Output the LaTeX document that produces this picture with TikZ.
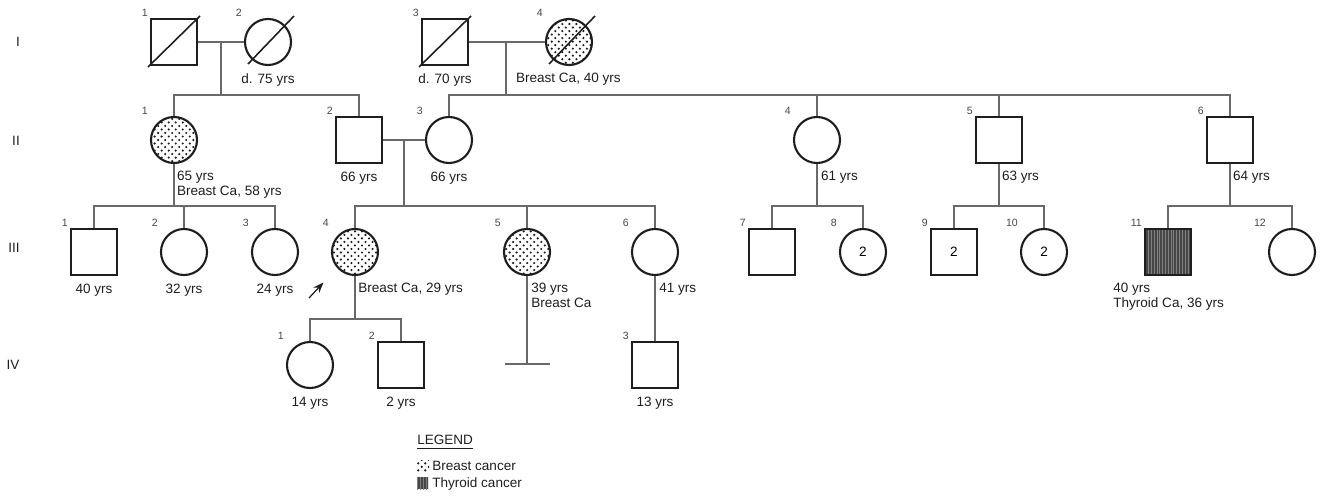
\documentclass[tikz,border=0pt]{standalone}
\usepackage{fontspec}
\setmainfont{Liberation Sans}
\usepackage{xcolor}
\definecolor{pedink}{RGB}{30,30,30}
\definecolor{pedgray}{RGB}{105,105,105}
\definecolor{pednum}{RGB}{70,70,70}
\usepackage{tikz}
\usetikzlibrary{arrows.meta, positioning, patterns, calc}

\pgfdeclarepatternformonly{bcdots}{\pgfqpoint{-1pt}{-1pt}}{\pgfqpoint{3pt}{3pt}}{\pgfqpoint{4pt}{4pt}}{%
  \pgfpathcircle{\pgfqpoint{0pt}{0pt}}{0.68pt}%
  \pgfpathcircle{\pgfqpoint{2pt}{2pt}}{0.68pt}%
  \pgfusepath{fill}}
\pgfdeclarepatternformonly{tcstripes}{\pgfqpoint{0pt}{-1pt}}{\pgfqpoint{1.6pt}{1pt}}{\pgfqpoint{1.6pt}{1pt}}{%
  \pgfsetlinewidth{0.45pt}%
  \pgfpathmoveto{\pgfqpoint{0.8pt}{-1pt}}%
  \pgfpathlineto{\pgfqpoint{0.8pt}{1pt}}%
  \pgfusepath{stroke}}

\newcommand{\agefont}{\fontsize{7.7}{8.6}\selectfont}
\newcommand{\numfont}{\fontsize{6}{7}\selectfont}

\tikzset{
  male/.style={rectangle, draw=pedink, line width=1.2pt, minimum size=0.92cm, inner sep=0pt, font=\agefont},
  female/.style={circle, draw=pedink, line width=1.2pt, minimum size=0.92cm, inner sep=0pt, font=\agefont},
  breastca/.style={pattern=bcdots, pattern color=pedink},
  thyroidca/.style={preaction={fill=black!72}, pattern=tcstripes, pattern color=black!50},
  pedline/.style={draw=pedgray, line width=0.6pt},
  deceased/.style={draw=pedink, line width=0.9pt},
  age/.style={font=\agefont, inner sep=1pt, text=pedink},
  num/.style={font=\numfont, inner sep=0.5pt, anchor=south east, text=pednum},
  genlab/.style={font=\agefont, text=pedink},
}

\begin{document}
\begin{tikzpicture}
  \useasboundingbox (0,0) rectangle (26.44,9.90);

  % Generation labels
  \node[genlab] (gI)   at (0.36,9.06) {I};
  \node[genlab] (gII)  at (0.32,7.08) {II};
  \node[genlab] (gIII) at (0.28,4.94) {III};
  \node[genlab] (gIV)  at (0.26,2.60) {IV};

  % --- Generation I ---
  \node[male] (I1) at (3.48,9.06) {};
  \node[female] (I2) at (5.36,9.06) {};
  \node[male] (I3) at (8.90,9.06) {};
  \node[female, breastca] (I4) at (11.38,9.06) {};
  \node[num] (nI1) at ([xshift=-0.5cm]I1.north) {1};
  \node[num] (nI2) at ([xshift=-0.5cm]I2.north) {2};
  \node[num] (nI3) at ([xshift=-0.5cm]I3.north) {3};
  \node[num] (nI4) at ([xshift=-0.5cm]I4.north) {4};
  % deceased
  \draw[deceased] ([shift={(-0.52,-0.50)}]I1.center) -- ([shift={(0.52,0.52)}]I1.center);
  \draw[deceased] ([shift={(-0.40,-0.44)}]I2.center) -- ([shift={(0.52,0.52)}]I2.center);
  \draw[deceased] ([shift={(-0.52,-0.50)}]I3.center) -- ([shift={(0.52,0.52)}]I3.center);
  \draw[deceased] ([shift={(-0.40,-0.44)}]I4.center) -- ([shift={(0.52,0.52)}]I4.center);
  \node[age, below=0.12cm of I2] (aI2) {d. 75 yrs};
  \node[age, below=0.12cm of I3] (aI3) {d. 70 yrs};
  \node[age, anchor=north west] (aI4) at (10.28,8.48) {Breast Ca, 40 yrs};

  % --- Generation II ---
  \node[female, breastca] (II1) at (3.48,7.10) {};
  \node[male] (II2) at (7.18,7.10) {};
  \node[female] (II3) at (8.98,7.10) {};
  \node[female] (II4) at (16.34,7.10) {};
  \node[male] (II5) at (19.98,7.10) {};
  \node[male] (II6) at (24.60,7.10) {};
  \node[num] (nII1) at ([xshift=-0.5cm]II1.north) {1};
  \node[num] (nII2) at ([xshift=-0.5cm]II2.north) {2};
  \node[num] (nII3) at ([xshift=-0.5cm]II3.north) {3};
  \node[num] (nII4) at ([xshift=-0.5cm]II4.north) {4};
  \node[num] (nII5) at ([xshift=-0.5cm]II5.north) {5};
  \node[num] (nII6) at ([xshift=-0.5cm]II6.north) {6};
  \node[age, anchor=north west, align=left] (aII1) at (3.50,6.52) {65 yrs\\Breast Ca, 58 yrs};
  \node[age, below=0.12cm of II2] (aII2) {66 yrs};
  \node[age, below=0.12cm of II3] (aII3) {66 yrs};
  \node[age, anchor=north west] (aII4) at (16.38,6.52) {61 yrs};
  \node[age, anchor=north west] (aII5) at (20.00,6.52) {63 yrs};
  \node[age, anchor=north west] (aII6) at (24.62,6.52) {64 yrs};

  % --- Generation III ---
  \node[male] (III1) at (1.88,4.86) {};
  \node[female] (III2) at (3.68,4.86) {};
  \node[female] (III3) at (5.50,4.86) {};
  \node[female, breastca] (III4) at (7.10,4.86) {};
  \node[female, breastca] (III5) at (10.54,4.86) {};
  \node[female] (III6) at (13.10,4.86) {};
  \node[male] (III7) at (15.44,4.86) {};
  \node[female] (III8) at (17.26,4.86) {2};
  \node[male] (III9) at (19.08,4.86) {2};
  \node[female] (III10) at (20.88,4.86) {2};
  \node[male, thyroidca] (III11) at (23.36,4.86) {};
  \node[female] (III12) at (25.84,4.86) {};
  \node[num] (nIII1) at ([xshift=-0.5cm]III1.north) {1};
  \node[num] (nIII2) at ([xshift=-0.5cm]III2.north) {2};
  \node[num] (nIII3) at ([xshift=-0.5cm]III3.north) {3};
  \node[num] (nIII4) at ([xshift=-0.5cm]III4.north) {4};
  \node[num] (nIII5) at ([xshift=-0.5cm]III5.north) {5};
  \node[num] (nIII6) at ([xshift=-0.5cm]III6.north) {6};
  \node[num] (nIII7) at ([xshift=-0.5cm]III7.north) {7};
  \node[num] (nIII8) at ([xshift=-0.5cm]III8.north) {8};
  \node[num] (nIII9) at ([xshift=-0.5cm]III9.north) {9};
  \node[num] (nIII10) at ([xshift=-0.5cm]III10.north) {10};
  \node[num] (nIII11) at ([xshift=-0.5cm]III11.north) {11};
  \node[num] (nIII12) at ([xshift=-0.5cm]III12.north) {12};
  \node[age, below=0.12cm of III1] (aIII1) {40 yrs};
  \node[age, below=0.12cm of III2] (aIII2) {32 yrs};
  \node[age, below=0.12cm of III3] (aIII3) {24 yrs};
  \node[age, anchor=north west] (aIII4) at (7.125,4.28) {Breast Ca, 29 yrs};
  \node[age, anchor=north west, align=left] (aIII5) at (10.585,4.28) {39 yrs\\Breast Ca};
  \node[age, anchor=north west] (aIII6) at (13.145,4.28) {41 yrs};
  \node[age, anchor=north west, align=left] (aIII11) at (22.225,4.28) {40 yrs\\Thyroid Ca, 36 yrs};
  % proband
  \coordinate (prb) at (6.18,3.94);
  \coordinate (prbtip) at (6.47,4.25);
  \draw[-{Stealth[length=6pt,width=4.5pt]}, pedink, line width=0.7pt] (prb) -- (prbtip);

  % --- Generation IV ---
  \node[female] (IV1) at (6.20,2.60) {};
  \node[male] (IV2) at (8.02,2.60) {};
  \node[male] (IV3) at (13.10,2.60) {};
  \node[num] (nIV1) at ([xshift=-0.5cm]IV1.north) {1};
  \node[num] (nIV2) at ([xshift=-0.5cm]IV2.north) {2};
  \node[num] (nIV3) at ([xshift=-0.5cm]IV3.north) {3};
  \node[age, below=0.12cm of IV1] (aIV1) {14 yrs};
  \node[age, below=0.12cm of IV2] (aIV2) {2 yrs};
  \node[age, below=0.12cm of IV3] (aIV3) {13 yrs};

  % --- Lines of descent ---
  \coordinate (sibI) at (0,8.00);
  \coordinate (sibII) at (0,5.78);
  \coordinate (sibIII) at (0,3.52);
  \coordinate (mI12) at (4.42,9.06);
  \coordinate (mI34) at (10.12,9.06);
  \coordinate (mII23) at (8.08,7.10);
  \draw[pedline] (I1) -- (I2);
  \draw[pedline] (mI12) -- (mI12 |- sibI);
  \draw[pedline] (II1) |- (mI12 |- sibI) -| (II2);
  \draw[pedline] (I3) -- (I4);
  \draw[pedline] (mI34) -- (mI34 |- sibI);
  \draw[pedline] (II3) |- (mI34 |- sibI) -| (II6);
  \draw[pedline] (II4) -- (II4 |- sibI);
  \draw[pedline] (II5) -- (II5 |- sibI);

  \draw[pedline] (II1) -- (II1 |- sibII);
  \draw[pedline] (III1) |- (II1 |- sibII) -| (III3);
  \draw[pedline] (III2) -- (III2 |- sibII);
  \draw[pedline] (II2) -- (II3);
  \draw[pedline] (mII23) -- (mII23 |- sibII);
  \draw[pedline] (III4) |- (mII23 |- sibII) -| (III6);
  \draw[pedline] (III5) -- (III5 |- sibII);
  \draw[pedline] (II4) -- (II4 |- sibII);
  \draw[pedline] (III7) |- (II4 |- sibII) -| (III8);
  \draw[pedline] (II5) -- (II5 |- sibII);
  \draw[pedline] (III9) |- (II5 |- sibII) -| (III10);
  \draw[pedline] (II6) -- (II6 |- sibII);
  \draw[pedline] (III11) |- (II6 |- sibII) -| (III12);

  \draw[pedline] (III4) -- (III4 |- sibIII);
  \draw[pedline] (IV1) |- (III4 |- sibIII) -| (IV2);
  \coordinate (nc5) at (10.54,2.62);
  \draw[pedline] (III5) -- (nc5);
  \draw[pedline] ([xshift=-0.45cm]nc5) -- ([xshift=0.45cm]nc5);
  \draw[pedline] (III6) -- (IV3);

  % --- Legend ---
  \node[age, inner sep=0pt, anchor=base west] (legtitle) at (8.34,1.00) {LEGEND};
  \draw[pedink, line width=1pt] ([yshift=-2pt]legtitle.base west) -- ([yshift=-2pt]legtitle.base east);
  \fill[breastca] (8.34,0.48) rectangle (8.58,0.70);
  \node[age, inner sep=0pt, anchor=base west] (legbc) at (8.64,0.50) {Breast cancer};
  \fill[thyroidca] (8.34,0.12) rectangle (8.56,0.36);
  \node[age, inner sep=0pt, anchor=base west] (legtc) at (8.64,0.14) {Thyroid cancer};
\end{tikzpicture}
\end{document}
